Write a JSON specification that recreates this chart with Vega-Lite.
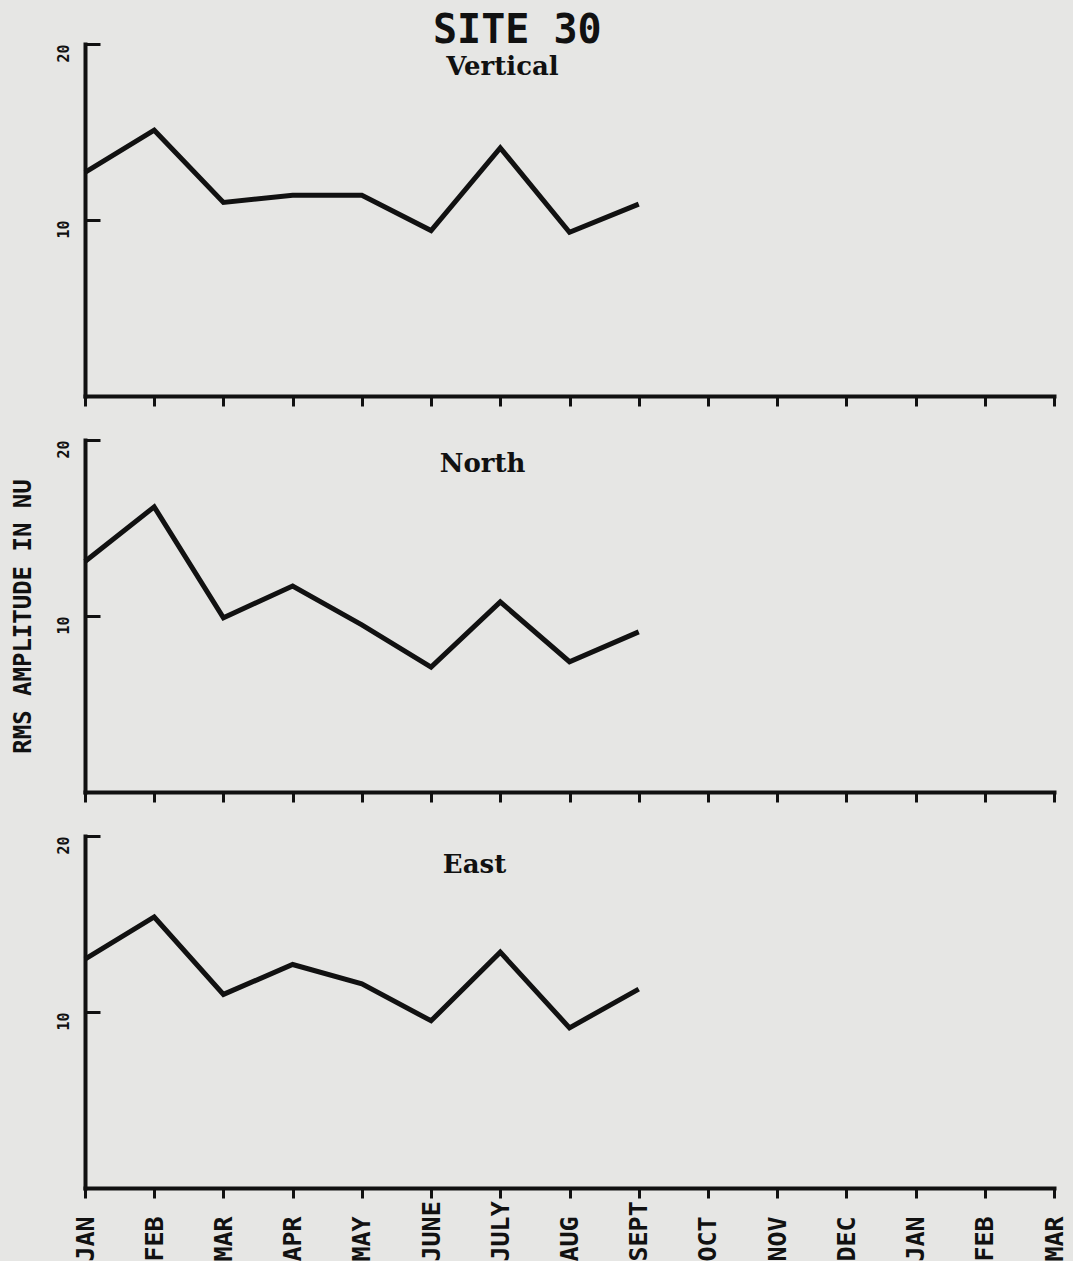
{
  "$schema": "https://vega.github.io/schema/vega-lite/v6.json",
  "background": "#e6e6e4",
  "padding": {"left": 11, "top": 10, "right": 19, "bottom": 0},
  "autosize": {"type": "pad"},
  "title": {"text": "SITE 30", "font": "DejaVu Sans Mono", "fontSize": 40, "fontWeight": "bold", "color": "#111111", "anchor": "start", "frame": "group", "dx": 348, "offset": -8},
  "spacing": 30,
  "datasets": {
    "rms": [
      {"m": 1, "comp": "Vertical", "v": 12.7},
      {"m": 2, "comp": "Vertical", "v": 15.1},
      {"m": 3, "comp": "Vertical", "v": 11.0},
      {"m": 4, "comp": "Vertical", "v": 11.4},
      {"m": 5, "comp": "Vertical", "v": 11.4},
      {"m": 6, "comp": "Vertical", "v": 9.4},
      {"m": 7, "comp": "Vertical", "v": 14.1},
      {"m": 8, "comp": "Vertical", "v": 9.3},
      {"m": 9, "comp": "Vertical", "v": 10.9},
      {"m": 1, "comp": "North", "v": 13.1},
      {"m": 2, "comp": "North", "v": 16.2},
      {"m": 3, "comp": "North", "v": 9.9},
      {"m": 4, "comp": "North", "v": 11.7},
      {"m": 5, "comp": "North", "v": 9.5},
      {"m": 6, "comp": "North", "v": 7.1},
      {"m": 7, "comp": "North", "v": 10.8},
      {"m": 8, "comp": "North", "v": 7.4},
      {"m": 9, "comp": "North", "v": 9.1},
      {"m": 1, "comp": "East", "v": 13.0},
      {"m": 2, "comp": "East", "v": 15.4},
      {"m": 3, "comp": "East", "v": 11.0},
      {"m": 4, "comp": "East", "v": 12.7},
      {"m": 5, "comp": "East", "v": 11.6},
      {"m": 6, "comp": "East", "v": 9.5},
      {"m": 7, "comp": "East", "v": 13.4},
      {"m": 8, "comp": "East", "v": 9.1},
      {"m": 9, "comp": "East", "v": 11.3}
    ]
  },
  "config": {
    "view": {"stroke": null},
    "axis": {"domainColor": "#111111", "domainWidth": 4, "domainCap": "square", "tickColor": "#111111", "tickWidth": 3, "grid": false, "labelColor": "#111111", "titleColor": "#111111"}
  },
  "vconcat": [
    {
      "width": 969, "height": 352,
      "title": {"text": "Vertical", "font": "DejaVu Serif", "fontSize": 26, "fontWeight": "bold", "color": "#111111", "anchor": "middle", "frame": "group", "dx": -67, "offset": -37},
      "data": {"name": "rms"},
      "transform": [{"filter": "datum.comp === 'Vertical'"}],
      "mark": {"type": "line", "color": "#111111", "strokeWidth": 5},
      "encoding": {
        "x": {"field": "m", "type": "quantitative", "scale": {"domain": [1, 15], "nice": false, "zero": false},
              "axis": {"values": [1,2,3,4,5,6,7,8,9,10,11,12,13,14,15], "labels": false, "title": null, "tickSize": 10}},
        "y": {"field": "v", "type": "quantitative", "scale": {"domain": [0, 20], "nice": false},
              "axis": {"values": [10, 20], "tickSize": -15, "labelAngle": -90, "labelAlign": "right", "labelBaseline": "middle", "labelFont": "DejaVu Sans Mono", "labelFontSize": 15, "labelFontWeight": "bold", "labelPadding": 37, "title": null}}
      }
    },
    {
      "width": 969, "height": 352,
      "title": {"text": "North", "font": "DejaVu Serif", "fontSize": 26, "fontWeight": "bold", "color": "#111111", "anchor": "middle", "frame": "group", "dx": -87, "offset": -38},
      "data": {"name": "rms"},
      "transform": [{"filter": "datum.comp === 'North'"}],
      "mark": {"type": "line", "color": "#111111", "strokeWidth": 5},
      "encoding": {
        "x": {"field": "m", "type": "quantitative", "scale": {"domain": [1, 15], "nice": false, "zero": false},
              "axis": {"values": [1,2,3,4,5,6,7,8,9,10,11,12,13,14,15], "labels": false, "title": null, "tickSize": 10}},
        "y": {"field": "v", "type": "quantitative", "scale": {"domain": [0, 20], "nice": false},
              "axis": {"values": [10, 20], "tickSize": -15, "labelAngle": -90, "labelAlign": "right", "labelBaseline": "middle", "labelFont": "DejaVu Sans Mono", "labelFontSize": 15, "labelFontWeight": "bold", "labelPadding": 37,
                       "title": "RMS AMPLITUDE IN NU", "titleFont": "DejaVu Sans Mono", "titleFontSize": 24, "titleFontWeight": "bold", "titlePadding": 21}}
      }
    },
    {
      "width": 969, "height": 352,
      "title": {"text": "East", "font": "DejaVu Serif", "fontSize": 26, "fontWeight": "bold", "color": "#111111", "anchor": "middle", "frame": "group", "dx": -95, "offset": -43},
      "data": {"name": "rms"},
      "transform": [{"filter": "datum.comp === 'East'"}],
      "mark": {"type": "line", "color": "#111111", "strokeWidth": 5},
      "encoding": {
        "x": {"field": "m", "type": "quantitative", "scale": {"domain": [1, 15], "nice": false, "zero": false},
              "axis": {"values": [1,2,3,4,5,6,7,8,9,10,11,12,13,14,15], "title": null, "tickSize": 10,
                       "labelExpr": "['JAN','FEB','MAR','APR','MAY','JUNE','JULY','AUG','SEPT','OCT','NOV','DEC','JAN','FEB','MAR'][datum.value - 1]",
                       "labelAngle": -90, "labelAlign": "left", "labelBaseline": "middle", "labelFont": "DejaVu Sans Mono", "labelFontSize": 25, "labelFontWeight": "bold", "labelPadding": 63, "labelOverlap": false}},
        "y": {"field": "v", "type": "quantitative", "scale": {"domain": [0, 20], "nice": false},
              "axis": {"values": [10, 20], "tickSize": -15, "labelAngle": -90, "labelAlign": "right", "labelBaseline": "middle", "labelFont": "DejaVu Sans Mono", "labelFontSize": 15, "labelFontWeight": "bold", "labelPadding": 37, "title": null}}
      }
    }
  ]
}
